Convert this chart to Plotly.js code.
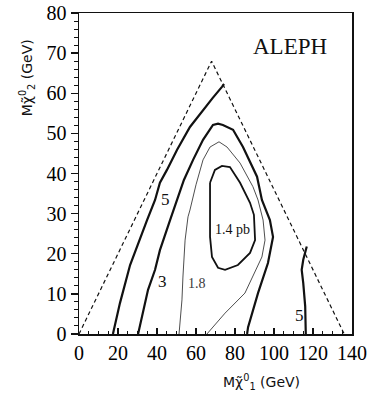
<!DOCTYPE html>
<html>
<head>
<meta charset="utf-8">
<script src="https://cdn.plot.ly/plotly-3.0.1.min.js"></script>
<style>
  html, body { margin: 0; padding: 0; background: #fff; }
  #chart { width: 367px; height: 394px; }
</style>
</head>
<body>
<div id="chart"></div>
<script>
// Kinematic limit (dashed triangle)
const limitX = [0, 68, 136];
const limitY = [0, 68, 0];

// Cross-section contours (pb), neutralino mass plane
const c5LeftX = [17.4, 21.0, 26.2, 30.3, 34.9, 39.0, 41.5, 45.1, 50.3, 56.9, 63.6, 68.5, 73.3, 74.4];
const c5LeftY = [0, 7.7, 17.2, 22.7, 28.4, 33.4, 37.7, 40.9, 45.9, 51.6, 55.9, 58.8, 61.6, 62.3];

const c5RightX = [116.3, 116.0, 115.0, 114.2, 115.0, 116.8];
const c5RightY = [0, 6.9, 12.7, 16.0, 18.5, 21.8];

const c3X = [30.3, 35.4, 39.0, 41.5, 46.7, 50.3, 53.8, 58.5, 63.6, 68.7, 71.3, 73.8, 79.0, 84.1, 91.3, 93.8, 97.9, 99.5, 96.9, 91.8, 86.7, 86.2];
const c3Y = [0, 11.0, 16.0, 20.9, 28.4, 33.4, 38.4, 43.4, 48.4, 52.1, 52.4, 52.1, 50.9, 46.6, 39.2, 33.4, 28.4, 24.2, 17.7, 10.2, 1.7, 0];

const c18X = [51.3, 52.8, 53.3, 54.4, 55.9, 56.9, 60.0, 63.6, 67.2, 71.8, 75.9, 82.6, 89.2, 91.8, 94.4, 95.4, 93.8, 90.3, 85.1, 74.9, 65.6];
const c18Y = [0, 8.5, 14.2, 23.4, 29.2, 30.9, 37.2, 43.4, 46.6, 47.9, 46.6, 42.6, 36.7, 33.4, 28.4, 23.4, 19.2, 15.5, 10.2, 5.2, 0];

const c14X = [67.2, 69.7, 73.3, 77.4, 82.6, 87.7, 89.7, 90.3, 87.7, 81.5, 74.9, 71.3, 68.2, 67.2, 67.2, 67.2];
const c14Y = [37.7, 40.9, 41.9, 41.6, 37.7, 32.7, 29.7, 23.4, 20.2, 17.2, 16.0, 16.5, 19.2, 24.2, 30.9, 37.7];

// Contour level labels
const labelText = ['5', '3', '1.8', '1.4 pb', '5'];
const labelX = [44.3, 42.8, 60.6, 78.5, 113.3];
const labelY = [33.4, 13.2, 12.5, 26.0, 4.7];
const labelSize = [17, 17, 14, 14, 17];

const ink = '#111';
const serif = '"Liberation Serif", "Times New Roman", Times, serif';
const sans = 'DejaVu Sans';

function line(x, y, width, dash, color) {
  return {
    x: x, y: y, type: 'scatter', mode: 'lines',
    line: { color: color || ink, width: width, dash: dash || 'solid' },
    hoverinfo: 'skip'
  };
}

const traces = [
  line(limitX, limitY, 1.2, '4px,3px'),
  line(c5LeftX, c5LeftY, 2.2),
  line(c5RightX, c5RightY, 2.2),
  line(c3X, c3Y, 2.2),
  line(c18X, c18Y, 0.9, 'solid', '#3a3a3a'),
  line(c14X, c14Y, 1.8)
];

const annotations = labelText.map((t, i) => ({
  x: labelX[i], y: labelY[i], xref: 'x', yref: 'y',
  xanchor: 'center', yanchor: 'middle',
  text: t, showarrow: false,
  font: { family: serif, size: labelSize[i], color: i === 2 ? '#3a3a3a' : ink }
}));

annotations.push({
  x: 108.2, y: 71.6, xref: 'x', yref: 'y', text: 'ALEPH', showarrow: false,
  xanchor: 'center', yanchor: 'middle',
  font: { family: serif, size: 23, color: ink }
});
annotations.push({
  x: 0.67, y: -0.148, xref: 'paper', yref: 'paper',
  xanchor: 'center', yanchor: 'middle',
  text: 'Mχ̃<sup>0</sup><sub>1</sub> (GeV)', showarrow: false,
  font: { family: sans, size: 14, color: ink }
});
annotations.push({
  x: -0.19, y: 0.797, xref: 'paper', yref: 'paper', textangle: -90,
  xanchor: 'center', yanchor: 'middle',
  text: 'Mχ̃<sup>0</sup><sub>2</sub> (GeV)', showarrow: false,
  font: { family: sans, size: 14, color: ink }
});

const layout = {
  width: 367, height: 394,
  margin: { l: 79, r: 15, t: 13, b: 60 },
  font: { family: serif, size: 20, color: '#000' },
  paper_bgcolor: '#fff', plot_bgcolor: '#fff',
  showlegend: false, hovermode: false,
  xaxis: {
    range: [0, 140], dtick: 20, tick0: 0,
    showgrid: false, zeroline: false,
    showline: true, linecolor: ink, linewidth: 1.5, mirror: true,
    ticks: 'inside', ticklen: 6, tickwidth: 1.3, tickcolor: ink,
    minor: { dtick: 5, ticks: 'inside', ticklen: 3.5, tickwidth: 1, tickcolor: ink },
    tickfont: { family: serif, size: 20, color: '#000' }
  },
  yaxis: {
    range: [0, 80], dtick: 10, tick0: 0,
    showgrid: false, zeroline: false,
    showline: true, linecolor: ink, linewidth: 1.5, mirror: true,
    ticks: 'outside', ticklen: 7, tickwidth: 1.3, tickcolor: ink,
    minor: { dtick: 2, ticks: 'outside', ticklen: 3.5, tickwidth: 1, tickcolor: ink },
    tickfont: { family: serif, size: 20, color: '#000' }
  },
  annotations: annotations
};

Plotly.newPlot('chart', traces, layout, { displayModeBar: false, staticPlot: true });
</script>
</body>
</html>
